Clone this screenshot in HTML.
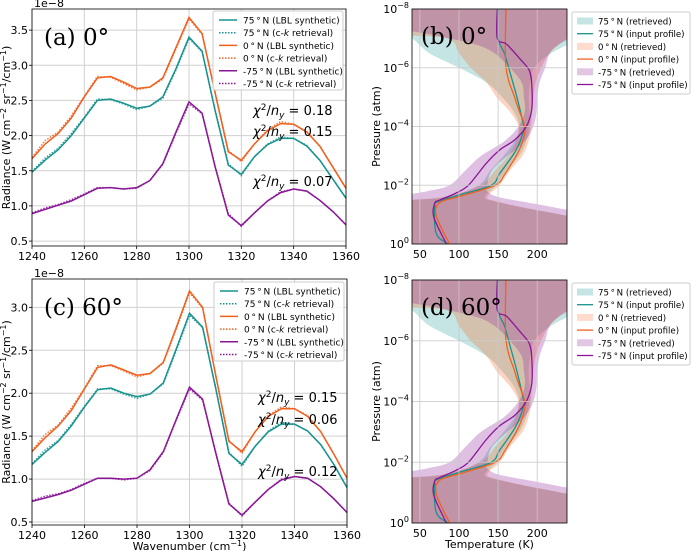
<!DOCTYPE html>
<html><head><meta charset="utf-8"><style>
body{margin:0;background:#fff;}
svg{display:block;font-family:"DejaVu Sans","Liberation Sans",sans-serif;}
</style></head><body>
<svg id="fig" width="691" height="551" viewBox="0 0 691 551" xmlns="http://www.w3.org/2000/svg">
<defs>
<clipPath id="clipB"><rect x="412" y="9" width="155" height="235"/></clipPath>
<clipPath id="clipD"><rect x="412" y="280" width="155" height="243"/></clipPath>
</defs>
</svg>
<script>
// ---- spectra data ----
const wavenumbers = [1240,1245,1250,1255,1260,1265,1270,1275,1280,1285,1290,1295,1300,1305,1310,1315,1320,1325,1330,1335,1340,1345,1350,1355,1360];
const a_n75_lbl = [1.48,1.65,1.80,2.00,2.25,2.50,2.52,2.46,2.39,2.42,2.55,2.95,3.40,3.20,2.35,1.58,1.45,1.70,1.87,1.96,1.96,1.85,1.65,1.38,1.11];
const a_n75_ck  = [1.49,1.68,1.82,2.03,2.26,2.52,2.51,2.45,2.37,2.42,2.53,2.93,3.38,3.19,2.36,1.60,1.43,1.70,1.88,1.98,1.96,1.86,1.65,1.38,1.11];
const a_eq_lbl  = [1.67,1.88,2.03,2.25,2.55,2.82,2.84,2.76,2.67,2.69,2.82,3.25,3.68,3.45,2.60,1.77,1.65,1.88,2.07,2.17,2.16,2.05,1.85,1.55,1.25];
const a_eq_ck   = [1.69,1.93,2.05,2.28,2.56,2.84,2.83,2.74,2.65,2.69,2.80,3.23,3.66,3.44,2.61,1.79,1.63,1.88,2.08,2.20,2.16,2.06,1.85,1.55,1.25];
const a_s75_lbl = [0.89,0.95,1.01,1.07,1.16,1.25,1.26,1.24,1.26,1.36,1.60,2.05,2.48,2.32,1.55,0.87,0.72,0.90,1.07,1.19,1.24,1.21,1.08,0.92,0.73];
const a_s75_ck  = [0.90,0.97,1.02,1.09,1.17,1.26,1.26,1.24,1.25,1.36,1.59,2.03,2.45,2.31,1.56,0.89,0.71,0.90,1.07,1.20,1.24,1.21,1.08,0.92,0.73];
const c_n75_lbl = [1.17,1.31,1.44,1.62,1.84,2.04,2.06,2.00,1.96,1.99,2.12,2.52,2.93,2.77,2.05,1.30,1.17,1.38,1.55,1.64,1.64,1.56,1.40,1.17,0.90];
const c_n75_ck  = [1.18,1.34,1.45,1.64,1.85,2.05,2.05,1.99,1.94,1.99,2.11,2.50,2.91,2.76,2.06,1.31,1.15,1.38,1.56,1.66,1.64,1.56,1.40,1.17,0.90];
const c_eq_lbl  = [1.32,1.48,1.62,1.80,2.05,2.30,2.33,2.27,2.21,2.23,2.36,2.77,3.19,3.00,2.20,1.44,1.32,1.55,1.73,1.82,1.82,1.73,1.55,1.29,1.01];
const c_eq_ck   = [1.33,1.52,1.63,1.83,2.06,2.32,2.32,2.26,2.19,2.23,2.35,2.75,3.17,2.99,2.21,1.45,1.30,1.55,1.74,1.84,1.82,1.74,1.55,1.29,1.01];
const c_s75_lbl = [0.74,0.78,0.82,0.87,0.94,1.01,1.01,1.00,1.01,1.11,1.32,1.70,2.07,1.93,1.30,0.71,0.58,0.73,0.88,0.99,1.03,1.01,0.91,0.77,0.61];
const c_s75_ck  = [0.75,0.80,0.83,0.88,0.95,1.01,1.01,0.99,1.01,1.10,1.31,1.69,2.05,1.92,1.31,0.72,0.57,0.73,0.88,1.00,1.03,1.01,0.91,0.77,0.61];
const wnTicks = [1240,1260,1280,1300,1320,1340,1360];
const aYTicks = [0.5,1.0,1.5,2.0,2.5,3.0,3.5];
const cYTicks = [0.5,1.0,1.5,2.0,2.5,3.0];
const aChi = ["0.18","0.15","0.07"];
const cChi = ["0.15","0.06","0.12"];
// ---- profile data (log10 pressure, temperature K) ----
const n75_logp = [-8,-7.0,-6.5,-6.04,-5.0,-4.1,-3.9,-3.2,-2.4,-2.0,-1.66,-1.44,-1.27,-0.35,0];
const n75_T    = [150,150,158,163,174,182,183,173,152,141,99,73,69,71,86];
const eq_logp  = [-8,-6.04,-5.0,-4.6,-4.1,-3.77,-3.2,-2.4,-2.0,-1.62,-1.4,-0.95,0];
const eq_T     = [160,160,171,176,183,184,177,159,146,101,75,71,88];
const s75_logp = [-8,-7.0,-6.8,-6.3,-5.9,-5.4,-4.6,-4.0,-3.54,-3.2,-2.75,-2.0,-1.72,-1.49,-1.38,-0.9,0];
const s75_T    = [149,149,161,178,190,193,193,186,171,152,135,112,95,75,69,68,84];
const n75_band_lp = [-8,-7.2,-7.0,-6.5,-6.0,-5.5,-5.0,-4.5,-4.0,-3.5,-3.0,-2.5,-2.0,-1.6,-1.45,-1.2,-1.0,-0.8,0];
const n75_lo      = [20,20,40,62,100,135,155,170,177,171,157,140,125,85,20,20,20,20,20];
const n75_hi      = [260,260,255,218,196,191,189,190,190,186,177,160,148,133,145,190,230,260,260];
const eq_band_lp  = [-8,-7.2,-7.0,-6.5,-6.0,-5.5,-5.0,-4.5,-4.0,-3.5,-3.0,-2.5,-2.0,-1.6,-1.45,-1.2,-1.0,-0.8,0];
const eq_lo       = [20,20,85,100,115,135,148,165,176,173,163,146,128,80,20,20,20,20,20];
const eq_hi       = [260,255,238,216,205,198,195,193,192,189,181,165,152,136,148,190,230,260,260];
const s75_band_lp = [-8,-7.4,-7.1,-6.8,-6.5,-6.0,-5.5,-5.0,-4.5,-4.0,-3.5,-3.0,-2.5,-2.0,-1.8,-1.6,-1.4,-1.2,-1.0,0];
const s75_lo      = [20,20,70,120,145,165,180,183,184,176,158,128,108,88,60,20,20,20,20,20];
const s75_hi      = [260,260,248,228,216,210,203,200,199,195,184,162,142,136,136,150,190,230,260,260];
const tTicks = [50,100,150,200];
const pTicks = [-8,-6,-4,-2,0];

const NS="http://www.w3.org/2000/svg";
const svg=document.getElementById('fig');
function mk(tag,attrs,parent){const e=document.createElementNS(NS,tag);for(const k in attrs)e.setAttribute(k,attrs[k]);(parent||svg).appendChild(e);return e;}
function smooth(p){
  let d='M'+p[0][0].toFixed(1)+','+p[0][1].toFixed(1);
  for(let i=0;i<p.length-1;i++){const p0=p[i-1]||p[i],p1=p[i],p2=p[i+1],p3=p[i+2]||p2;
    const c1=[p1[0]+(p2[0]-p0[0])/6,p1[1]+(p2[1]-p0[1])/6],c2=[p2[0]-(p3[0]-p1[0])/6,p2[1]-(p3[1]-p1[1])/6];
    d+=' C'+c1[0].toFixed(1)+','+c1[1].toFixed(1)+' '+c2[0].toFixed(1)+','+c2[1].toFixed(1)+' '+p2[0].toFixed(1)+','+p2[1].toFixed(1);}
  return d;}
const TEAL="#16938f",ORANGE="#f0601e",PURPLE="#8a1797";

function spectrumPanel(P){
  const sx=v=>P.x0+(v-1240)/(120)*(P.x1-P.x0);
  const sy=v=>P.y1-(v-P.ymin)/(P.ymax-P.ymin)*(P.y1-P.y0);
  const g=mk('g',{});
  
  
  wnTicks.forEach(t=>{const l=mk('line',{x1:sx(t),x2:sx(t),y1:P.y0,y2:P.y1,stroke:'#d0d0d0','stroke-width':1},g);
    
    
    const tk=mk('line',{x1:sx(t),x2:sx(t),y1:P.y1,y2:P.y1+3,stroke:'#000','stroke-width':0.8},g);
    
    
    const tx=mk('text',{x:sx(t),y:P.y1+14,'text-anchor':'middle','font-size':11},g);tx.textContent=t;
    
    });
  P.yt.forEach(t=>{const l=mk('line',{x1:P.x0,x2:P.x1,y1:sy(t),y2:sy(t),stroke:'#d0d0d0','stroke-width':1},g);
    
    
    const tk=mk('line',{x1:P.x0-3,x2:P.x0,y1:sy(t),y2:sy(t),stroke:'#000','stroke-width':0.8},g);
    
    
    const tx=mk('text',{x:P.x0-4,y:sy(t)+4,'text-anchor':'end','font-size':11},g);tx.textContent=t.toFixed(1);
    
    });
  const series=[[P.d[0],TEAL,0,'series-75n-lbl'],[P.d[1],TEAL,1,'series-75n-ck'],[P.d[2],ORANGE,0,'series-0n-lbl'],[P.d[3],ORANGE,1,'series-0n-ck'],[P.d[4],PURPLE,0,'series-m75n-lbl'],[P.d[5],PURPLE,1,'series-m75n-ck']];
  series.forEach(s=>{const pts=s[0].map((v,i)=>sx(wavenumbers[i]).toFixed(1)+','+sy(v).toFixed(1)).join(' ');
    const pl=mk('polyline',{points:pts,fill:'none',stroke:s[1],'stroke-width':1.5,'stroke-dasharray':s[2]?'1.5,1.5':'none',opacity:s[2]?0.85:1},g);
    
    });
  const fr=mk('rect',{x:P.x0,y:P.y0,width:P.x1-P.x0,height:P.y1-P.y0,fill:'none',stroke:'#000','stroke-width':0.8},g);
  
  
  const ex=mk('text',{x:P.x0+2,y:P.y0-2,'font-size':11},g);ex.textContent='1e\u22128';
  
  
  const ti=mk('text',{x:P.x0+12,y:P.y0+36,'font-size':23,'font-family':'"DejaVu Serif","Liberation Serif",serif'},g);ti.textContent=P.title;
  
  
  const yl=mk('text',{x:0,y:0,'font-size':11,'text-anchor':'middle',transform:`translate(${P.x0-22},${(P.y0+P.y1)/2}) rotate(-90)`},g);
  yl.innerHTML='Radiance (W cm<tspan dy="-4" font-size="8">\u22122</tspan><tspan dy="4"> sr</tspan><tspan dy="-4" font-size="8">\u22121</tspan><tspan dy="4">/cm</tspan><tspan dy="-4" font-size="8">\u22121</tspan><tspan dy="4">)</tspan>';
  
  
  P.chi.forEach((c,i)=>{const t=mk('text',{x:P.chiX,y:P.chiY[i],'font-size':13},g);
    t.innerHTML='<tspan font-style="italic">χ</tspan><tspan dy="-5" font-size="9">2</tspan><tspan dy="5">/</tspan><tspan font-style="italic">n</tspan><tspan dy="3" font-size="9" font-style="italic">y</tspan><tspan dy="-3"> = '+c+'</tspan>';
    
    });
  const L=mk('g',{},g);
  
  
  const lb=mk('rect',{x:P.lx,y:P.ly,width:130,height:79,fill:'#fff','fill-opacity':0.85,stroke:'#ccc',rx:2},L);
  
  
  const labs=['75\u2009°\u2009N (LBL synthetic)','75\u2009°\u2009N (c-<tspan font-style="italic">k</tspan> retrieval)','0\u2009°\u2009N (LBL synthetic)','0\u2009°\u2009N (c-<tspan font-style="italic">k</tspan> retrieval)','-75\u2009°\u2009N (LBL synthetic)','-75\u2009°\u2009N (c-<tspan font-style="italic">k</tspan> retrieval)'];
  const cols=[TEAL,TEAL,ORANGE,ORANGE,PURPLE,PURPLE];
  labs.forEach((s,i)=>{const yy=P.ly+9+i*12.7;
    const ln=mk('line',{x1:P.lx+6,x2:P.lx+24,y1:yy,y2:yy,stroke:cols[i],'stroke-width':1.5,'stroke-dasharray':i%2?'1.5,1.5':'none'},L);
    
    
    const tx=mk('text',{x:P.lx+30,y:yy+3.5,'font-size':9},L);tx.innerHTML=s;
    
    });
  if(P.xlabel){const xl=mk('text',{x:(P.x0+P.x1)/2,y:P.y1+25,'font-size':11,'text-anchor':'middle'},g);
    xl.innerHTML='Wavenumber (cm<tspan dy="-4" font-size="8">\u22121</tspan><tspan dy="4">)</tspan>';
    
    }
}

function profilePanel(P){
  const sx=v=>P.x0+(v-40)/(198)*(P.x1-P.x0);
  const sy=lp=>P.y0+(lp+8)/8*(P.y1-P.y0);
  const g=mk('g',{});
  
  
  const cg=mk('g',{'clip-path':`url(#${P.clip})`},g);
  const bands=[[n75_band_lp,n75_lo,n75_hi,'rgb(20,150,145)',0.25,'band-75n-retrieved'],[eq_band_lp,eq_lo,eq_hi,'rgb(250,110,50)',0.3,'band-0n-retrieved'],[s75_band_lp,s75_lo,s75_hi,'rgb(140,30,150)',0.28,'band-m75n-retrieved']];
  bands.forEach(b=>{const up=b[0].map((lp,i)=>[sx(b[2][i]),sy(lp)]);
    const dn=b[0].map((lp,i)=>[sx(b[1][i]),sy(lp)]).reverse();
    const d=smooth(up)+' L'+smooth(dn).slice(1)+' Z';
    const pg=mk('path',{d:d,fill:b[3],'fill-opacity':b[4],stroke:'none'},cg);
    
    });
  tTicks.forEach(t=>{const l=mk('line',{x1:sx(t),x2:sx(t),y1:P.y0,y2:P.y1,stroke:'#c8c8c8','stroke-width':1,'stroke-opacity':0.8},g);
    
    
    const tx=mk('text',{x:sx(t),y:P.y1+14,'text-anchor':'middle','font-size':11},g);tx.textContent=t;
    
    });
  pTicks.forEach(t=>{const l=mk('line',{x1:P.x0,x2:P.x1,y1:sy(t),y2:sy(t),stroke:'#c8c8c8','stroke-width':1,'stroke-opacity':0.8},g);
    
    
    const tx=mk('text',{x:P.x0-3,y:sy(t)+4,'text-anchor':'end','font-size':11},g);
    tx.innerHTML='10<tspan dy="-5" font-size="8">'+(t===0?'0':'\u2212'+(-t))+'</tspan>';
    
    });
  const lines=[[n75_logp,n75_T,TEAL,'profile-75n-input'],[eq_logp,eq_T,ORANGE,'profile-0n-input'],[s75_logp,s75_T,PURPLE,'profile-m75n-input']];
  lines.forEach(s=>{const pts=s[0].map((lp,i)=>[sx(s[1][i]),sy(lp)]);
    const pl=mk('path',{d:smooth(pts),fill:'none',stroke:s[2],'stroke-width':1.3,'stroke-linejoin':'round'},cg);
    
    });
  const fr=mk('rect',{x:P.x0,y:P.y0,width:P.x1-P.x0,height:P.y1-P.y0,fill:'none',stroke:'#000','stroke-width':0.8},g);
  
  
  const ti=mk('text',{x:P.x0+9,y:P.y0+35,'font-size':23,'font-family':'"DejaVu Serif","Liberation Serif",serif'},g);ti.textContent=P.title;
  
  
  const yl=mk('text',{x:0,y:0,'font-size':11,'text-anchor':'middle',transform:`translate(${P.x0-32},${(P.y0+P.y1)/2}) rotate(-90)`},g);
  yl.textContent='Pressure (atm)';
  
  
  if(P.xlabel){const xl=mk('text',{x:(P.x0+P.x1)/2,y:P.y1+25,'font-size':11,'text-anchor':'middle'},g);xl.textContent='Temperature (K)';
    
    }
  const L=mk('g',{},g);
  
  
  const lb=mk('rect',{x:P.lx,y:P.ly,width:118,height:82,fill:'#fff',stroke:'#ccc',rx:2},L);
  
  
  const labs=['75\u2009°\u2009N (retrieved)','75\u2009°\u2009N (input profile)','0\u2009°\u2009N (retrieved)','0\u2009°\u2009N (input profile)','-75\u2009°\u2009N (retrieved)','-75\u2009°\u2009N (input profile)'];
  const cols=['rgb(20,150,145)',TEAL,'rgb(250,110,50)',ORANGE,'rgb(140,30,150)',PURPLE];
  labs.forEach((s,i)=>{const yy=P.ly+9+i*12.7;
    let sw;
    if(i%2===0){sw=mk('rect',{x:P.lx+5,y:yy-3.5,width:16,height:7,fill:cols[i],'fill-opacity':0.25},L);}
    else{sw=mk('line',{x1:P.lx+5,x2:P.lx+21,y1:yy,y2:yy,stroke:cols[i],'stroke-width':1.3},L);}
    
    
    const tx=mk('text',{x:P.lx+26,y:yy+3.5,'font-size':8.6},L);tx.textContent=s;
    
    });
}

spectrumPanel({name:'panel-a-radiance',x0:32,x1:346,y0:9,y1:246,ymin:0.43,ymax:3.8,yt:aYTicks,title:'(a) 0°',
  d:[a_n75_lbl,a_n75_ck,a_eq_lbl,a_eq_ck,a_s75_lbl,a_s75_ck],chi:aChi,chiX:253,chiY:[115,136,186],lx:213,ly:11,xlabel:false});
spectrumPanel({name:'panel-c-radiance',x0:32,x1:347,y0:279,y1:525,ymin:0.465,ymax:3.33,yt:cYTicks,title:'(c) 60°',
  d:[c_n75_lbl,c_n75_ck,c_eq_lbl,c_eq_ck,c_s75_lbl,c_s75_ck],chi:cChi,chiX:258,chiY:[402,424,476],lx:214,ly:282,xlabel:true});
profilePanel({name:'panel-b-temperature',x0:412,x1:567,y0:9,y1:244,clip:'clipB',title:'(b) 0°',lx:572,ly:12,xlabel:false});
profilePanel({name:'panel-d-temperature',x0:412,x1:567,y0:280,y1:523,clip:'clipD',title:'(d) 60°',lx:572,ly:283,xlabel:true});
</script>
</body></html>
